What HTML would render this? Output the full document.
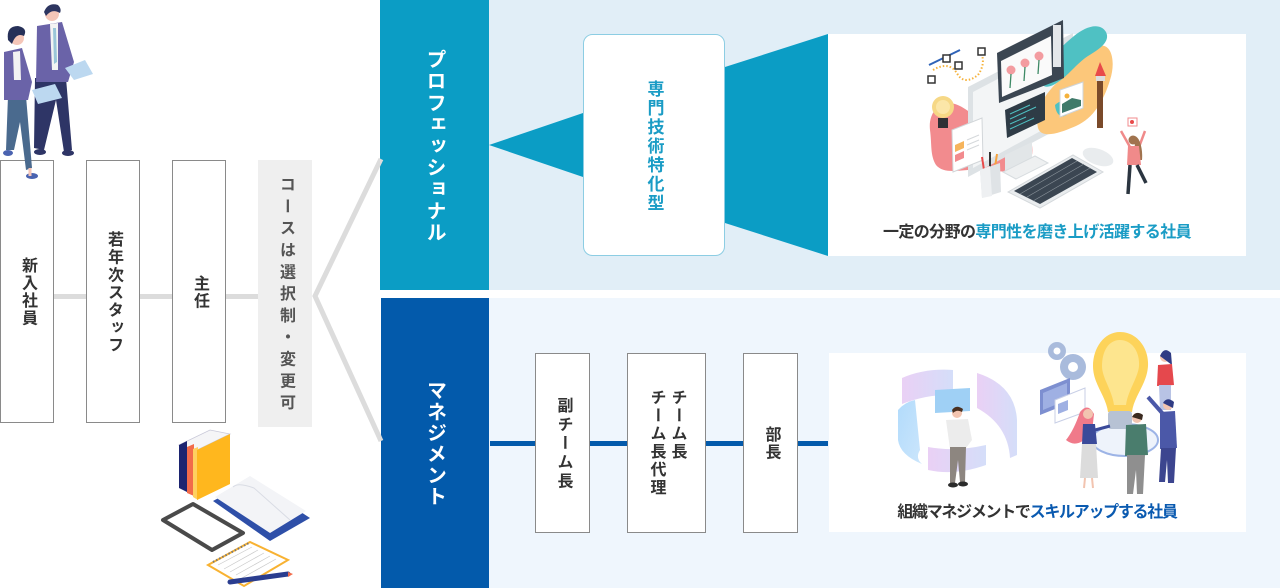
<!DOCTYPE html>
<html><head><meta charset="utf-8">
<style>
*{margin:0;padding:0;box-sizing:border-box}
html,body{width:1280px;height:588px;overflow:hidden;background:#fff}
body{position:relative;font-family:"Liberation Sans","Noto Sans CJK JP",sans-serif}
svg{position:absolute;left:0;top:0}
.v{position:absolute;display:flex;align-items:center;justify-content:center;writing-mode:vertical-rl;font-weight:bold;white-space:nowrap}
.v span{display:block}
.h{position:absolute;left:828px;width:418px;text-align:center;font-size:16px;line-height:20px;font-weight:bold;color:#333;white-space:nowrap}
</style></head><body>
<svg width="1280" height="588" viewBox="0 0 1280 588" xmlns="http://www.w3.org/2000/svg">
<rect x="0" y="0" width="1280" height="588" fill="#fff"/>
<rect x="489" y="0" width="791" height="290" fill="#e1eef7"/>
<rect x="489" y="298" width="791" height="290" fill="#eff6fd"/>
<rect x="380" y="0" width="109" height="290" fill="#0b9dc5"/>
<rect x="381" y="298" width="108" height="290" fill="#035aab"/>

<!-- left connectors -->
<rect x="53" y="294" width="34" height="5" fill="#dcdcdc"/>
<rect x="139" y="294" width="34" height="5" fill="#dcdcdc"/>
<rect x="225" y="294" width="34" height="5" fill="#dcdcdc"/>
<polyline points="381,159 315,296 381,441" fill="none" stroke="#dcdcdc" stroke-width="5"/>
<!-- left boxes -->
<rect x="0.5" y="160.5" width="53" height="262" fill="#fff" stroke="#8a8a8a"/>
<rect x="86.5" y="160.5" width="53" height="262" fill="#fff" stroke="#8a8a8a"/>
<rect x="172.5" y="160.5" width="53" height="262" fill="#fff" stroke="#8a8a8a"/>
<rect x="258" y="160" width="54" height="267" fill="#efefef"/>

<!-- top section -->
<polygon points="489,145 583,113 583,177" fill="#0b9dc5"/>
<polygon points="725,67 828,34 828,256 725,223" fill="#0b9dc5"/>
<rect x="583.5" y="34.5" width="141" height="221" rx="9" fill="#fff" stroke="#8ccde3"/>
<rect x="828" y="34" width="418" height="222" fill="#fff"/>

<!-- bottom section -->
<rect x="490" y="441" width="338" height="5" fill="#035aab"/>
<rect x="535.5" y="353.5" width="54" height="179" fill="#fff" stroke="#8a8a8a"/>
<rect x="627.5" y="353.5" width="78" height="179" fill="#fff" stroke="#8a8a8a"/>
<rect x="743.5" y="353.5" width="54" height="179" fill="#fff" stroke="#8a8a8a"/>
<rect x="829" y="353" width="417" height="179" fill="#fff"/>

<!-- ===== top illustration ===== -->
<line x1="929" y1="65" x2="960" y2="50" stroke="#2f63b8" stroke-width="2"/>
<path d="M933,70 Q950,60 958,75 Q965,85 978,75 Q985,65 982,55" fill="none" stroke="#f5b23c" stroke-width="2" stroke-dasharray="1.5 2"/>
<rect x="928" y="76" width="7" height="7" fill="#fff" stroke="#333" stroke-width="1.5"/>
<rect x="943" y="55" width="7" height="7" fill="#fff" stroke="#333" stroke-width="1.5"/>
<rect x="955" y="62" width="7" height="7" fill="#fff" stroke="#333" stroke-width="1.5"/>
<rect x="978" y="48" width="7" height="7" fill="#fff" stroke="#333" stroke-width="1.5"/>
<path d="M930,130 C928,112 940,100 955,104 C968,108 972,118 985,116 C1000,114 1008,112 1018,118 C1030,126 1036,150 1030,162 C1022,174 1000,172 985,170 C965,168 945,176 936,165 C930,155 932,145 930,130 Z" fill="#f28b8e"/>
<polygon points="968,87 1073,33 1073,121 968,177" fill="#dde2e5"/>
<polygon points="973,92 1068,42 1068,116 973,168" fill="#f3f5f6"/>
<polygon points="1005,155 1032,142 1032,160 1005,172" fill="#e2e6e8"/>
<polygon points="1003,172 1035,156 1048,163 1016,179" fill="#eef0f1" stroke="#d7dcdf"/>
<path d="M1038,128 C1034,110 1046,92 1060,80 C1074,68 1082,52 1098,46 C1112,42 1116,62 1110,80 C1104,100 1094,118 1076,126 C1062,132 1042,140 1038,128 Z" fill="#fcc77a"/>
<path d="M1042,78 C1048,58 1062,46 1074,36 C1086,26 1100,22 1106,32 C1111,42 1098,50 1088,56 C1076,64 1068,76 1058,82 C1050,88 1040,90 1042,78 Z" fill="#4fc1c3"/>
<path d="M1055,105 C1062,98 1072,100 1070,110 C1066,120 1056,118 1055,105 Z" fill="#4fc1c3"/>
<polygon points="997,53 1063,20 1064,78 999,103" fill="#3b4652"/>
<polygon points="1001,61 1051,36 1052,75 1002,97" fill="#fafafa"/>
<rect x="1053" y="25" width="8" height="42" fill="#e4e7ea"/>
<g fill="#f39ca0">
<circle cx="1011" cy="70" r="4.5"/><circle cx="1025" cy="63" r="4.5"/><circle cx="1039" cy="56" r="4.5"/>
</g>
<g stroke="#3e8a66" stroke-width="1.3" fill="none">
<path d="M1011,74 L1010,88"/><path d="M1025,67 L1024,81"/><path d="M1039,60 L1038,74"/>
</g>
<polygon points="1005,110 1045,92 1045,120 1007,138" fill="#2e3b46"/>
<g stroke="#4fc1c3" stroke-width="1">
<line x1="1010" y1="114" x2="1030" y2="105"/><line x1="1010" y1="119" x2="1036" y2="107"/><line x1="1010" y1="124" x2="1026" y2="117"/><line x1="1010" y1="129" x2="1034" y2="118"/>
</g>
<polygon points="1060,90 1083,82 1083,108 1060,117" fill="#fff" stroke="#cfd4d8"/>
<polygon points="1062,104 1072,98 1081,100 1081,106 1062,113" fill="#3f7a6a"/>
<circle cx="1067" cy="96" r="2.5" fill="#f5b23c"/>
<line x1="1100" y1="80" x2="1100" y2="128" stroke="#7a4a2a" stroke-width="6"/>
<rect x="1096" y="76" width="9" height="5" fill="#ddd"/>
<polygon points="1095,76 1100,62 1106,76" fill="#e84a4a"/>
<circle cx="943" cy="107" r="11" fill="#f6d886"/>
<circle cx="943" cy="107" r="7" fill="#fbe6a8"/>
<rect x="938" y="118" width="10" height="10" fill="#2e3035"/>
<polygon points="952,130 982,118 983,160 953,172" fill="#fff" stroke="#d2d6d9"/>
<polygon points="955,145 964,141 964,148 955,152" fill="#f6b45c"/>
<polygon points="955,155 964,151 964,158 955,162" fill="#f28b8e"/>
<g stroke="#d5d8db" stroke-width="1"><line x1="967" y1="140" x2="979" y2="135"/><line x1="967" y1="145" x2="979" y2="140"/><line x1="967" y1="150" x2="979" y2="145"/></g>
<line x1="984" y1="170" x2="982" y2="157" stroke="#e84a4a" stroke-width="2"/>
<line x1="990" y1="168" x2="990" y2="152" stroke="#333" stroke-width="2"/>
<line x1="995" y1="167" x2="997" y2="154" stroke="#f5a23c" stroke-width="2"/>
<polygon points="980,170 1000,163 1001,192 982,198" fill="#dfe3e6"/>
<polygon points="980,170 990,166 992,196 982,198" fill="#eef0f2"/>
<polygon points="1008,192 1073,155 1103,172 1040,208" fill="#e9ecee" stroke="#d4d8db"/>
<polygon points="1014,191 1072,158 1097,172 1040,204" fill="#3b4652"/>
<g stroke="#8d969e" stroke-width="0.6">
<line x1="1020" y1="194" x2="1077" y2="161"/><line x1="1027" y1="197" x2="1084" y2="164"/><line x1="1033" y1="201" x2="1090" y2="168"/>
</g>
<ellipse cx="1098" cy="157" rx="16" ry="8" fill="#e9ecee" transform="rotate(20 1098 157)"/>
<rect x="1128" y="118" width="9" height="8" fill="#fff" stroke="#f28b8e"/>
<circle cx="1132" cy="122" r="2" fill="#e84a4a"/>
<line x1="1130" y1="147" x2="1121" y2="131" stroke="#f08a8a" stroke-width="2.5"/>
<line x1="1139" y1="147" x2="1145" y2="131" stroke="#f08a8a" stroke-width="2.5"/>
<path d="M1134,136 C1140,136 1143,150 1142,160 L1136,160 Z" fill="#a0734e"/>
<circle cx="1133" cy="140" r="4.5" fill="#a0734e"/>
<polygon points="1128,146 1139,146 1141,165 1127,165" fill="#f08a8a"/>
<line x1="1130" y1="165" x2="1128" y2="194" stroke="#2b3540" stroke-width="3.5"/>
<line x1="1137" y1="165" x2="1146" y2="183" stroke="#2b3540" stroke-width="3.5"/>

<!-- ===== bottom illustration ===== -->
<defs>
<linearGradient id="gp" x1="0" y1="0" x2="1" y2="0"><stop offset="0" stop-color="#e6c8f3"/><stop offset="1" stop-color="#cdd8f8"/></linearGradient>
<linearGradient id="gb" x1="0" y1="0" x2="1" y2="1"><stop offset="0" stop-color="#a9d7fb"/><stop offset="1" stop-color="#c6e3fb"/></linearGradient>
</defs>
<path d="M902,378 Q925,368 953,370 L953,395 Q928,394 902,404 Z" fill="url(#gp)" opacity="0.85"/>
<path d="M977,373 Q1015,385 1017,420 L1017,455 L1010,458 Q1008,425 977,408 Z" fill="url(#gp)" opacity="0.85"/>
<path d="M898,410 Q905,402 915,400 L920,450 Q915,458 922,464 Q900,455 898,440 Z" fill="url(#gb)" opacity="0.9"/>
<path d="M928,447 Q955,452 986,445 L986,465 Q955,476 928,470 Z" fill="url(#gp)" opacity="0.85"/>
<polygon points="935,390 970,388 970,411 935,413" fill="#9fd0f5"/>
<circle cx="957" cy="413" r="5" fill="#f2c4b0"/>
<path d="M952,410 Q956,404 963,409 L962,412 Q957,409 953,413 Z" fill="#4a3020"/>
<polygon points="946,420 968,419 972,440 966,448 950,449" fill="#ececec"/>
<polygon points="950,447 966,447 965,482 960,482 958,460 955,483 950,483" fill="#8d8680"/>
<ellipse cx="953" cy="485" rx="5" ry="2.5" fill="#2b2b2b"/>
<ellipse cx="963" cy="484" rx="5" ry="2.5" fill="#2b2b2b"/>
<circle cx="1057" cy="351" r="9" fill="#a9bbdc"/><circle cx="1057" cy="351" r="3.5" fill="#fff"/>
<circle cx="1073" cy="367" r="13" fill="#a9bbdc"/><circle cx="1073" cy="367" r="5" fill="#fff"/>
<polygon points="1040,390 1070,378 1070,403 1040,415" fill="#7d8fd0"/>
<polygon points="1043,393 1067,383 1067,400 1043,410" fill="#9fb0e3"/>
<polygon points="1055,400 1085,388 1085,412 1055,423" fill="#fff" stroke="#c8cfe6"/>
<polygon points="1058,404 1068,400 1068,410 1058,414" fill="#9fb0e3"/>
<ellipse cx="1125" cy="440" rx="33" ry="16" fill="#eef3fb" stroke="#9db4e6" stroke-width="2"/>
<path d="M1120,332 C1137,332 1149,348 1148,366 C1147,384 1134,396 1132,412 L1108,412 C1106,396 1093,384 1093,366 C1093,348 1104,332 1120,332 Z" fill="#fdd35a"/>
<path d="M1120,340 C1132,340 1140,352 1139,366 C1138,378 1128,390 1126,405 L1114,405 C1112,390 1102,378 1102,366 C1102,352 1108,340 1120,340 Z" fill="#fde58e"/>
<rect x="1108" y="411" width="24" height="18" rx="3" fill="#b7c2d4"/>
<circle cx="1165" cy="357" r="5" fill="#f2c4b0"/>
<path d="M1160,356 Q1164,346 1171,353 L1172,365 L1168,362 Z" fill="#2f3b84"/>
<polygon points="1158,365 1172,364 1174,385 1157,386" fill="#e5484d"/>
<polygon points="1159,385 1171,385 1171,410 1160,410" fill="#b8c3e5"/>
<line x1="1148" y1="397" x2="1163" y2="414" stroke="#4b58a8" stroke-width="4"/>
<circle cx="1168" cy="405" r="5" fill="#f2c4b0"/>
<path d="M1163,403 Q1167,396 1174,402 L1173,408 Z" fill="#2f3b84"/>
<polygon points="1160,412 1175,411 1177,448 1160,449" fill="#4b58a8"/>
<polygon points="1161,448 1176,448 1174,483 1168,483 1167,460 1165,482 1159,482" fill="#3c458f"/>
<path d="M1080,412 Q1088,402 1094,414 L1092,432 Q1078,450 1066,440 Q1074,430 1080,412 Z" fill="#f07a8a"/>
<circle cx="1088" cy="414" r="5" fill="#f2c4b0"/>
<polygon points="1083,424 1095,424 1097,444 1082,444" fill="#3a4a9a"/>
<line x1="1095" y1="430" x2="1110" y2="426" stroke="#3a4a9a" stroke-width="3"/>
<polygon points="1082,444 1096,444 1098,478 1080,478" fill="#dcdcdc"/>
<line x1="1085" y1="478" x2="1084" y2="488" stroke="#f2c4b0" stroke-width="2"/>
<line x1="1092" y1="478" x2="1093" y2="488" stroke="#f2c4b0" stroke-width="2"/>
<circle cx="1137" cy="418" r="5" fill="#f2c4b0"/>
<path d="M1132,417 Q1136,410 1143,415 L1142,420 Z" fill="#3a2a20"/>
<polygon points="1126,425 1146,424 1148,455 1125,456" fill="#4a7d6d"/>
<polygon points="1127,455 1145,455 1143,494 1137,494 1136,470 1133,494 1127,494" fill="#8f8f8f"/>

<!-- ===== people top-left ===== -->
<polygon points="35,78 66,78 72,150 64,152 56,100 44,150 34,148" fill="#2e3566"/>
<ellipse cx="40" cy="152" rx="6" ry="3" fill="#2e3566"/>
<ellipse cx="68" cy="153" rx="6" ry="3" fill="#2e3566"/>
<polygon points="37,26 62,22 74,62 68,82 36,82" fill="#6a63a8"/>
<polygon points="50,24 58,23 58,70 52,70" fill="#f3f3f3"/>
<polygon points="53,28 56,28 57,62 54,64" fill="#9ac6d8"/>
<circle cx="52" cy="14" r="7" fill="#f5c6b8"/>
<path d="M44,12 Q48,2 58,5 Q62,9 60,13 Q52,8 46,16 Z" fill="#2d3560"/>
<polygon points="65,68 85,60 93,74 74,80" fill="#bcd8f0"/>
<polygon points="8,96 26,96 32,168 26,170 20,122 14,150 6,150" fill="#4a6a8e"/>
<ellipse cx="8" cy="153" rx="5" ry="3" fill="#4a63b0"/>
<ellipse cx="32" cy="176" rx="6" ry="3" fill="#4a63b0"/>
<line x1="30" y1="168" x2="30" y2="176" stroke="#f5c6b8" stroke-width="3"/>
<polygon points="4,52 22,48 32,82 28,100 4,100" fill="#6a63a8"/>
<polygon points="13,52 20,51 21,80 14,80" fill="#f3f3f3"/>
<circle cx="17" cy="38" r="7" fill="#f5c6b8"/>
<path d="M8,40 Q6,26 18,26 Q28,28 24,36 Q16,32 12,44 Z" fill="#263058"/>
<polygon points="32,90 55,84 62,98 38,104" fill="#bcd8f0"/>

<!-- ===== books bottom-left ===== -->
<polygon points="179,445 210,430 230,434 197,450" fill="#f5f5f7" stroke="#c8c8d8" stroke-width="0.8"/>
<polygon points="179,445 187,441 187,492 179,488" fill="#1c2470"/>
<polygon points="187,447 194,444 194,496 187,493" fill="#f26b4a"/>
<polygon points="193,449 198,447 198,500 193,497" fill="#ffd060"/>
<polygon points="197,450 230,434 230,484 197,500" fill="#ffb71e"/>
<polygon points="213,501 252,480 310,518 270,541" fill="#2e4fa8"/>
<polygon points="215,497 250,476 306,511 270,533" fill="#f3f4f7"/>
<path d="M233,487 Q238,482 254,488 L290,520" fill="none" stroke="#d9dce4" stroke-width="1"/>
<polygon points="163,520 193,504 243,533 212,550" fill="#fff" stroke="#4a4a4a" stroke-width="4" stroke-linejoin="round"/>
<polygon points="208,565 250,542 288,560 244,586" fill="#fff" stroke="#f8b232" stroke-width="2"/>
<g stroke="#c9c9c9" stroke-width="0.7">
<line x1="218" y1="565" x2="252" y2="547"/><line x1="224" y1="569" x2="258" y2="550"/><line x1="230" y1="572" x2="264" y2="553"/><line x1="236" y1="575" x2="270" y2="556"/><line x1="242" y1="578" x2="276" y2="559"/>
</g>
<line x1="213" y1="562" x2="249" y2="543" stroke="#777" stroke-width="2" stroke-dasharray="1.5 2"/>
<line x1="230" y1="582" x2="288" y2="574" stroke="#2a3d8f" stroke-width="5" stroke-linecap="round"/>
<polygon points="288,572 293,574 288,577" fill="#f26b4a"/>
</svg>

<!-- left texts -->
<div class="v" style="left:0;top:160px;width:54px;height:263px;font-size:16px;letter-spacing:1.5px;color:#333;padding-top:1.5px">新入社員</div>
<div class="v" style="left:86px;top:160px;width:54px;height:263px;font-size:16px;letter-spacing:1.6px;color:#333;padding-top:1.6px">若年次スタッフ</div>
<div class="v" style="left:172px;top:160px;width:54px;height:263px;font-size:16px;letter-spacing:1.5px;color:#333;padding-top:1.5px">主任</div>
<div class="v" style="left:258px;top:160px;width:54px;height:267px;font-size:16px;letter-spacing:5.8px;color:#555;padding-top:5.8px">コースは選択制・変更可</div>

<!-- panel labels -->
<div class="v" style="left:380px;top:0;width:109px;height:290px;font-size:20px;letter-spacing:1.6px;color:#fff;padding-top:1.6px">プロフェッショナル</div>
<div class="v" style="left:381px;top:298px;width:108px;height:290px;font-size:20px;letter-spacing:1.2px;color:#fff;padding-top:1.2px">マネジメント</div>

<div class="v" style="left:583px;top:34px;width:142px;height:222px;font-size:17px;letter-spacing:2px;color:#1a9cc5;padding-top:2px">専門技術特化型</div>

<div class="v" style="left:535px;top:353px;width:55px;height:180px;font-size:16px;letter-spacing:2.8px;color:#333;padding-top:2.8px">副チーム長</div>
<div class="v" style="left:627px;top:353px;width:79px;height:180px;font-size:16px;letter-spacing:2px;color:#333;line-height:21px"><span>チーム長<br>チーム長代理</span></div>
<div class="v" style="left:743px;top:353px;width:55px;height:180px;font-size:16px;letter-spacing:1.5px;color:#333;padding-top:1.5px">部長</div>

<div class="h" style="top:223px;letter-spacing:-0.6px">一定の分野の<span style="color:#1a9cc5">専門性を磨き上げ活躍する社員</span></div>
<div class="h" style="top:503px;letter-spacing:-1.3px">組織マネジメントで<span style="color:#0a5ab0">スキルアップする社員</span></div>
</body></html>
